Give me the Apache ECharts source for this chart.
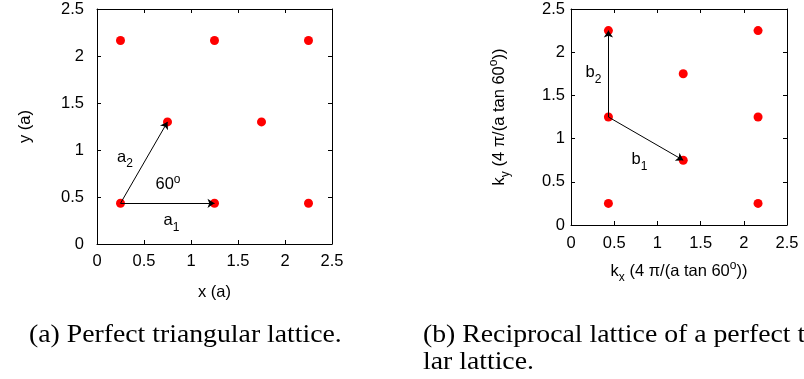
<!DOCTYPE html>
<html><head><meta charset="utf-8">
<script src="https://cdn.jsdelivr.net/npm/echarts@6/dist/echarts.min.js"></script>
<style>html,body{margin:0;padding:0;background:#fff}#c{width:804px;height:379px}</style>
</head><body><div id="c"></div>
<script>
// ---- data ----
const axisMin = 0, axisMax = 2.5, axisStep = 0.5;
const realLatticeX = [0.25, 1.25, 2.25, 0.75, 1.75, 0.25, 1.25, 2.25];
const realLatticeY = [0.433, 0.433, 0.433, 1.299, 1.299, 2.165, 2.165, 2.165];
const recipLatticeX = [0.433, 0.433, 0.433, 1.299, 1.299, 2.165, 2.165, 2.165];
const recipLatticeY = [0.25, 1.25, 2.25, 0.75, 1.75, 0.25, 1.25, 2.25];
const realVectors = [[[0.25, 0.433], [1.25, 0.433]], [[0.25, 0.433], [0.75, 1.299]]];
const recipVectors = [[[0.433, 1.25], [1.299, 0.75]], [[0.433, 1.25], [0.433, 2.25]]];
const realLabels = [[0.298, 0.926, '{b|a}{sub|2}'], [0.755, 0.633, '{b|60}{sup|o}'], [0.793, 0.253, '{b|a}{sub|1}']];
const recipLabels = [[0.260, 1.762, '{b|b}{sub|2}'], [0.793, 0.758, '{b|b}{sub|1}']];
const xNameA = '{b|x (a)}';
const yNameA = '{b|y (a)}';
const xNameB = '{b|k}{sub|x}{b| (4 π/(a tan 60}{sup|o}{b|))}';
const yNameB = '{b|k}{sub|y}{b| (4 π/(a tan 60}{sup|o}{b|))}';
const captionA = '(a) Perfect triangular lattice.';
const captionB1 = '(b) Reciprocal lattice of a perfect triangu-';
const captionB2 = 'lar lattice.';

// ---- styles ----
const FS = 16.5;
const FF = '"Liberation Sans", Arial, sans-serif';
const rich = {
  b: {fontSize: FS, fontFamily: FF, color: '#000', verticalAlign: 'middle'},
  sub: {fontSize: 12, fontFamily: FF, color: '#000', verticalAlign: 'middle', padding: [14, 0, 0, 0]},
  sup: {fontSize: 12, fontFamily: FF, color: '#000', verticalAlign: 'middle', padding: [0, 0, 10, 0]}
};
function mkAxis(gridIndex, pos, labels, margin, name, nameGap, nameRotate) {
  return {
    type: 'value', gridIndex: gridIndex, position: pos,
    min: axisMin, max: axisMax, interval: axisStep,
    axisLine: {show: true, onZero: false, lineStyle: {color: '#000', width: 1}},
    axisTick: {show: true, inside: true, length: 4, lineStyle: {color: '#000', width: 1}},
    axisLabel: {show: labels, margin: margin, color: '#000', fontSize: FS, fontFamily: FF},
    splitLine: {show: false},
    name: name || '', nameLocation: 'middle', nameGap: nameGap || 0, nameRotate: nameRotate || 0,
    nameTextStyle: {rich: rich, color: '#000', fontSize: FS, fontFamily: FF}
  };
}
const zip = (xs, ys) => xs.map((x, i) => [x, ys[i]]);
const dotStyle = {color: '#ff0000', opacity: 1};
const lineSeries = (vecs, xi, yi) => ({
  type: 'lines', coordinateSystem: 'cartesian2d', xAxisIndex: xi, yAxisIndex: yi, z: 5,
  symbol: ['none', 'arrow'], symbolSize: [0, 7],
  lineStyle: {color: '#000', width: 1, opacity: 1, curveness: 0},
  data: vecs.map(c => ({coords: c}))
});
const labelSeries = (labs, xi, yi) => ({
  type: 'scatter', xAxisIndex: xi, yAxisIndex: yi, symbolSize: 0, z: 6, silent: true,
  itemStyle: {opacity: 1},
  label: {show: true, position: 'inside', color: '#000', opacity: 1, textBorderWidth: 0,
          formatter: p => p.data[2], rich: rich},
  data: labs
});
const capFont = '"Liberation Serif", serif';
const capStyle = t => ({text: t, fontSize: 25, fontFamily: capFont, fill: '#000', verticalAlign: 'middle', textVerticalAlign: 'middle'});

const chart = echarts.init(document.getElementById('c'), null, {renderer: 'canvas'});
chart.setOption({
  animation: false,
  backgroundColor: '#fff',
  grid: [
    {left: 97, top: 9, width: 235, height: 235},
    {left: 571, top: 9, width: 216, height: 216}
  ],
  xAxis: [
    mkAxis(0, 'bottom', true, 9, xNameA, 40),
    mkAxis(0, 'top', false),
    mkAxis(1, 'bottom', true, 10, xNameB, 33),
    mkAxis(1, 'top', false)
  ],
  yAxis: [
    mkAxis(0, 'left', true, 13, yNameA, 63, 90),
    mkAxis(0, 'right', false),
    mkAxis(1, 'left', true, 6, yNameB, 59, 90),
    mkAxis(1, 'right', false)
  ],
  series: [
    {type: 'scatter', xAxisIndex: 0, yAxisIndex: 0, symbolSize: 9, itemStyle: dotStyle, data: zip(realLatticeX, realLatticeY)},
    {type: 'scatter', xAxisIndex: 2, yAxisIndex: 2, symbolSize: 9, itemStyle: dotStyle, data: zip(recipLatticeX, recipLatticeY)},
    lineSeries(realVectors, 0, 0),
    lineSeries(recipVectors, 2, 2),
    labelSeries(realLabels, 0, 0),
    labelSeries(recipLabels, 2, 2)
  ],
  graphic: [
    {type: 'text', x: 29, y: 335, scaleX: 1.11, style: capStyle(captionA)},
    {type: 'text', x: 423, y: 335, scaleX: 1.11, style: capStyle(captionB1)},
    {type: 'text', x: 423, y: 362, scaleX: 1.11, style: capStyle(captionB2)}
  ]
});
</script></body></html>
